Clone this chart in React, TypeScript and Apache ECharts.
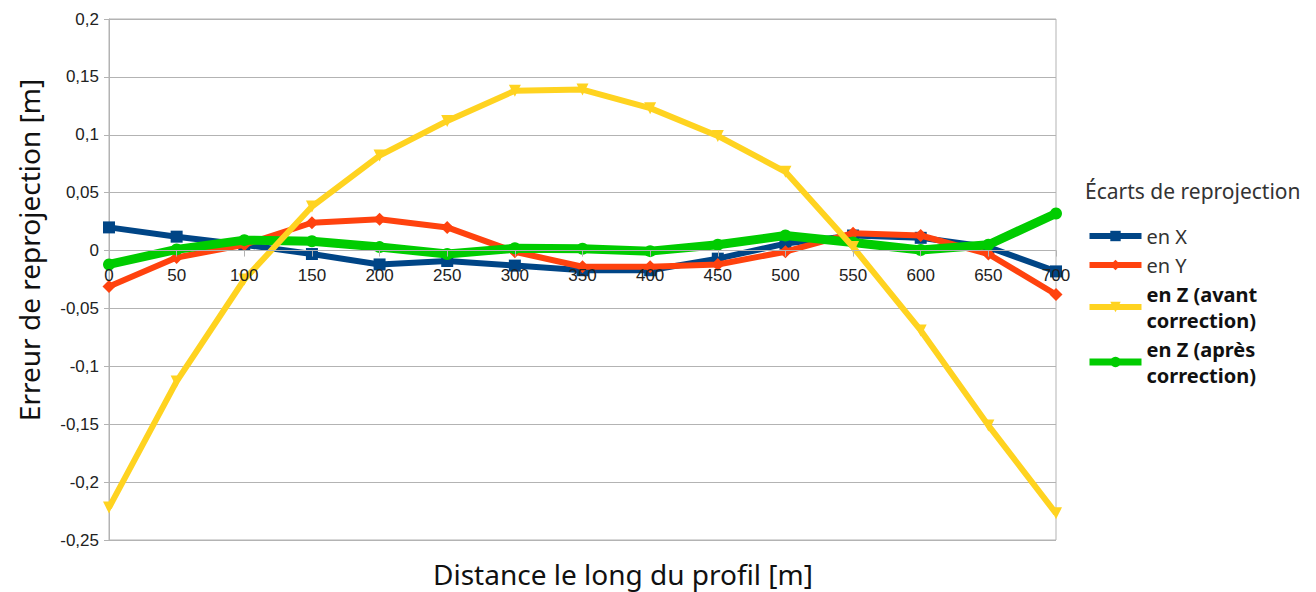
import React, { useEffect, useRef } from "react";
import * as echarts from "echarts";

const distances = [0, 50, 100, 150, 200, 250, 300, 350, 400, 450, 500, 550, 600, 650, 700];
const enX = [0.020, 0.012, 0.005, -0.003, -0.012, -0.009, -0.013, -0.017, -0.017, -0.007, 0.006, 0.013, 0.011, 0.003, -0.018];
const enY = [-0.031, -0.006, 0.005, 0.024, 0.027, 0.020, -0.001, -0.014, -0.014, -0.012, -0.001, 0.015, 0.013, -0.003, -0.038];
const enZavant = [-0.222, -0.113, -0.025, 0.038, 0.082, 0.112, 0.138, 0.139, 0.123, 0.099, 0.068, 0.003, -0.069, -0.151, -0.227];
const enZapres = [-0.012, 0.001, 0.009, 0.008, 0.003, -0.003, 0.002, 0.0015, -0.0005, 0.005, 0.013, 0.007, 0.0005, 0.005, 0.032];

const seriesNames = ["en X", "en Y", "en Z (avant correction)", "en Z (après correction)"];
const legendLabels = ["en X", "en Y", "en Z (avant\ncorrection)", "en Z (après\ncorrection)"];
const legendTitle = "Écarts de reprojection";
const yTitle = "Erreur de reprojection [m]";
const xTitle = "Distance le long du profil [m]";

const Y_MIN = -0.25;
const Y_MAX = 0.2;

const TITLE_FONT = "'Noto Sans', 'Open Sans', sans-serif";
const TICK_FONT = "'Liberation Sans', Arial, sans-serif";

function pairs(vals: number[]) {
  return distances.map((d, i) => [d, vals[i]]);
}

function fmtY(v: number) {
  const r = Math.round(v * 100) / 100;
  return String(r).replace(".", ",");
}

export default function App() {
  const ref = useRef<HTMLDivElement>(null);
  useEffect(() => {
    if (!ref.current) return;
    const chart = echarts.init(ref.current, null, { renderer: "svg" });
    const gridColor = "#b3b3b3";
    const gridTop = 19;
    const gridBottom = 52;
    const plotH = 592 - gridTop - gridBottom;
    const zeroOffset = (plotH * (0 - Y_MIN)) / (Y_MAX - Y_MIN);
    chart.setOption({
      animation: false,
      backgroundColor: "#ffffff",
      grid: {
        left: 109,
        right: 260,
        top: gridTop,
        bottom: gridBottom,
        show: true,
        borderColor: gridColor,
        borderWidth: 1,
      },
      title: {
        text: legendTitle,
        left: 1080,
        top: 175,
        textStyle: { fontFamily: TITLE_FONT, fontSize: 21, fontWeight: "normal", color: "#333333" },
      },
      legend: {
        orient: "vertical",
        left: 1081,
        top: 218,
        itemWidth: 52,
        itemHeight: 13,
        itemGap: 3,
        data: [
          { name: seriesNames[0], lineStyle: { width: 6 }, textStyle: { fontWeight: "normal", color: "#333333" } },
          { name: seriesNames[1], lineStyle: { width: 6 }, textStyle: { fontWeight: "normal", color: "#333333" } },
          { name: seriesNames[2], lineStyle: { width: 6 }, textStyle: { fontWeight: "bold", color: "#111111" } },
          { name: seriesNames[3], lineStyle: { width: 7 }, textStyle: { fontWeight: "bold", color: "#111111" } },
        ],
        formatter: (name: string) => legendLabels[seriesNames.indexOf(name)] ?? name,
        textStyle: { fontFamily: TITLE_FONT, fontSize: 20, lineHeight: 26 },
      },
      xAxis: {
        type: "value",
        min: 0,
        max: 700,
        interval: 50,
        z: 10,
        offset: -zeroOffset,
        axisLine: { show: true, onZero: false, lineStyle: { color: gridColor, width: 1 } },
        axisTick: { show: true, length: 6, lineStyle: { color: gridColor } },
        splitLine: { show: false },
        axisLabel: {
          margin: 16,
          fontFamily: TICK_FONT,
          fontSize: 17,
          color: "#222222",
          formatter: (v: number) => String(v),
        },
      },
      yAxis: {
        type: "value",
        min: Y_MIN,
        max: Y_MAX,
        interval: 0.05,
        axisLine: { show: true, onZero: false, lineStyle: { color: gridColor } },
        axisTick: { show: true, length: 5, lineStyle: { color: gridColor } },
        splitLine: { show: true, lineStyle: { color: gridColor, width: 1 } },
        axisLabel: {
          margin: 10,
          fontFamily: TICK_FONT,
          fontSize: 17,
          color: "#222222",
          formatter: (v: number) => fmtY(v),
        },
      },
      graphic: [
        {
          type: "text",
          x: 29,
          y: 250,
          rotation: Math.PI / 2,
          style: {
            text: yTitle,
            fontFamily: TITLE_FONT,
            fontSize: 28,
            fill: "#111111",
            align: "center",
            verticalAlign: "middle",
          },
        },
        {
          type: "text",
          x: 623,
          y: 574,
          style: {
            text: xTitle,
            fontFamily: TITLE_FONT,
            fontSize: 28,
            fill: "#111111",
            align: "center",
            verticalAlign: "middle",
          },
        },
      ],
      series: [
        {
          name: seriesNames[0],
          type: "line",
          data: pairs(enX),
          symbol: "rect",
          symbolSize: 12,
          z: 2,
          color: "#004586",
          lineStyle: { width: 6, color: "#004586" },
          itemStyle: { color: "#004586" },
        },
        {
          name: seriesNames[1],
          type: "line",
          data: pairs(enY),
          symbol: "diamond",
          symbolSize: 13,
          z: 3,
          color: "#ff420e",
          lineStyle: { width: 6, color: "#ff420e" },
          itemStyle: { color: "#ff420e" },
        },
        {
          name: seriesNames[2],
          type: "line",
          data: pairs(enZavant),
          symbol: "triangle",
          symbolRotate: 180,
          symbolSize: 12,
          z: 5,
          color: "#ffd320",
          lineStyle: { width: 6, color: "#ffd320" },
          itemStyle: { color: "#ffd320" },
        },
        {
          name: seriesNames[3],
          type: "line",
          data: pairs(enZapres),
          symbol: "circle",
          symbolSize: 12,
          z: 4,
          color: "#00cc00",
          lineStyle: { width: 9, color: "#00cc00" },
          itemStyle: { color: "#00cc00" },
        },
      ],
    });
    return () => chart.dispose();
  }, []);
  return (
    <div
      ref={ref}
      style={{ position: "fixed", left: 0, top: 0, width: 1316, height: 592, background: "#fff" }}
    />
  );
}
